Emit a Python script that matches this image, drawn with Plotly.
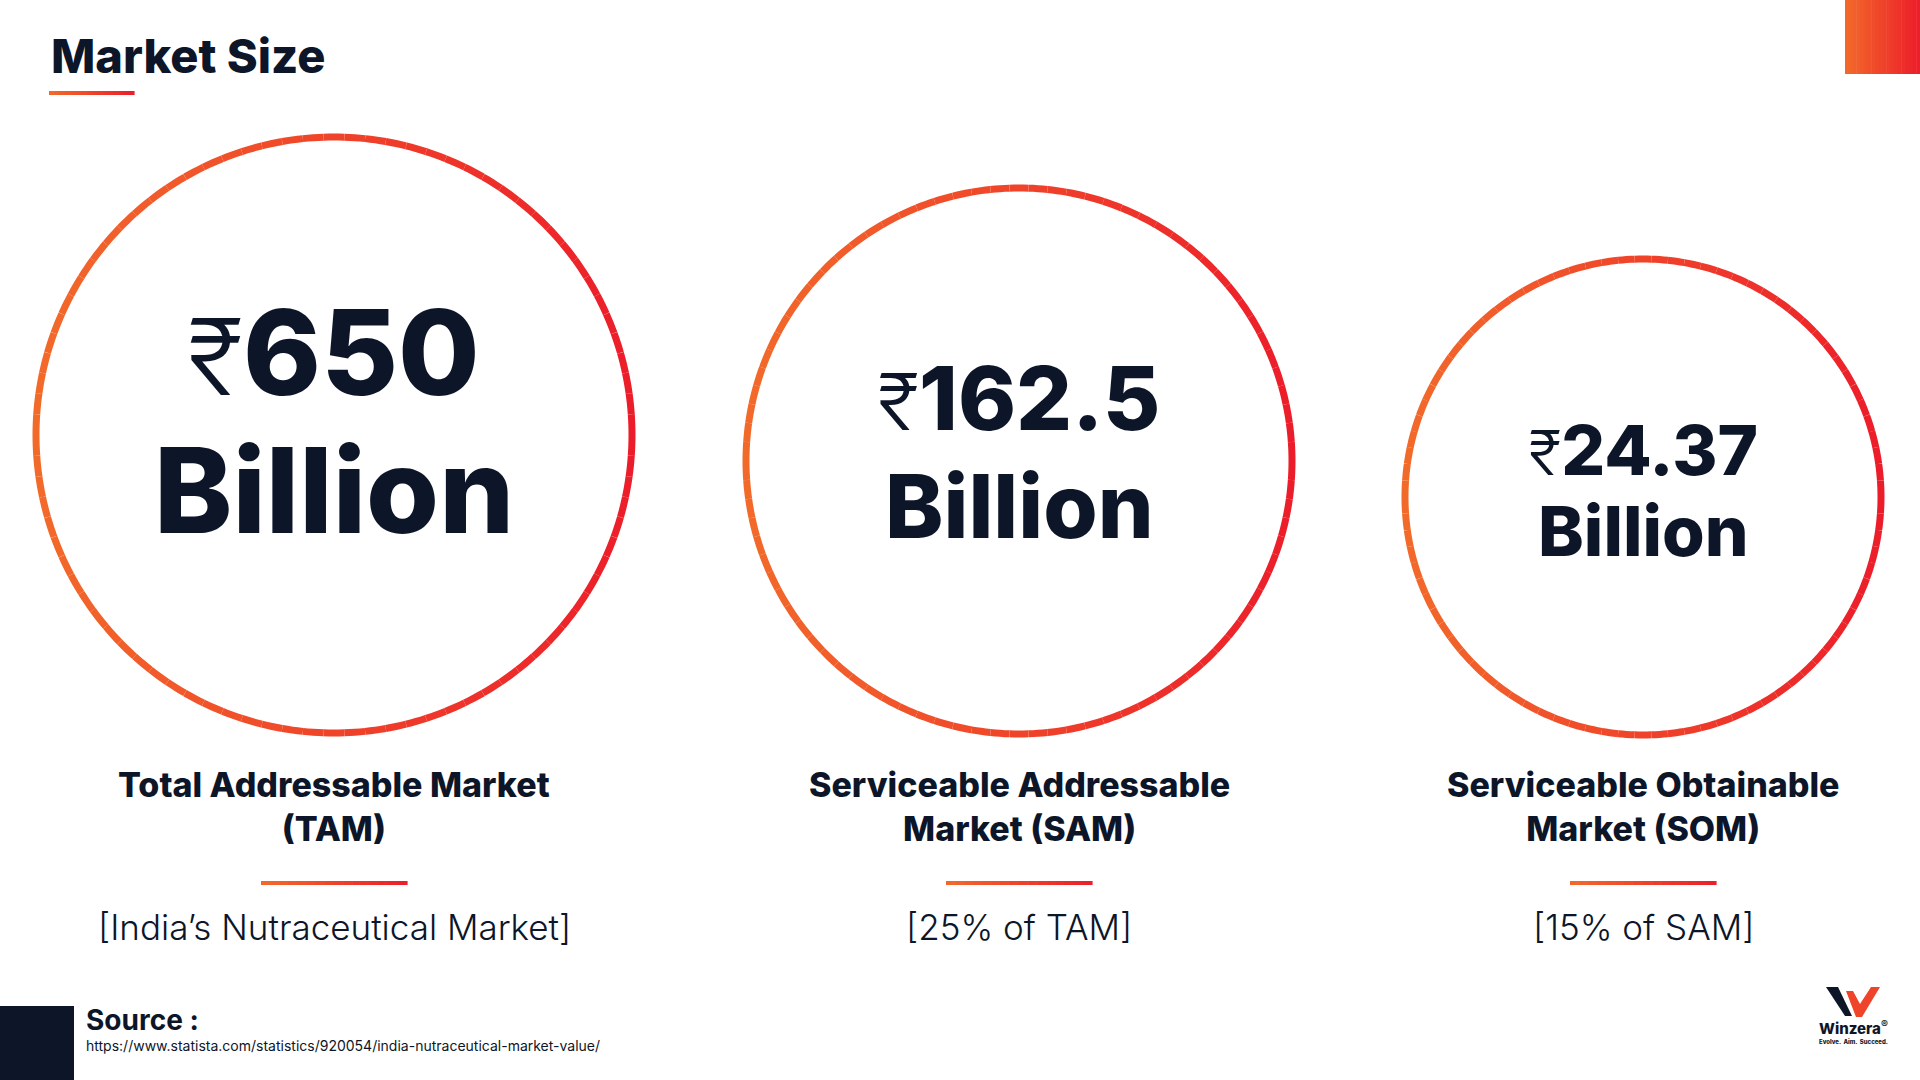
import numpy as np
import plotly.graph_objects as go

# --- chart content -------------------------------------------------------
values = ["₹650", "₹162.5", "₹24.37"]
units = ["Billion", "Billion", "Billion"]
labels = ["Total Addressable Market<br>(TAM)",
          "Serviceable Addressable<br>Market (SAM)",
          "Serviceable Obtainable<br>Market (SOM)"]
notes = ["[India’s Nutraceutical Market]", "[25% of TAM]", "[15% of SAM]"]
title = "Market Size"
source_url = "https://www.statista.com/statistics/920054/india-nutraceutical-market-value/"

# --- layout constants (pixels on a 1920x1080 canvas) ---------------------
W, H = 1920, 1080
centers_x = [334, 1019, 1643]
centers_y = [435, 461, 497]
radii = [298, 273, 238]
value_sizes = [118, 88, 69]
value_y = [352, 398, 450]
unit_y = [490, 506, 531]

NAVY = "#0D1628"
ORANGE = (242, 106, 42)
RED = (236, 29, 42)
FONT = "Inter"


def blend(t):
    t = min(max(t, 0.0), 1.0)
    r, g, b = (int(round(a + (c - a) * t)) for a, c in zip(ORANGE, RED))
    return f"rgb({r},{g},{b})"


shapes = []


def gradient_ring(cx, cy, r, width=7, n=90):
    angles = np.linspace(0, 2 * np.pi, n + 1)
    for a0, a1 in zip(angles[:-1], angles[1:]):
        pts = np.linspace(a0, a1, 5)
        xs = cx + r * np.cos(pts)
        ys = cy + r * np.sin(pts)
        path = "M " + " L ".join(f"{x:.2f},{y:.2f}" for x, y in zip(xs, ys))
        t = (np.cos((a0 + a1) / 2) + 1) / 2
        shapes.append(dict(type="path", path=path, xref="x", yref="y",
                           line=dict(color=blend(t), width=width)))


def gradient_bar(x0, x1, y, width=4, n=16):
    xs = np.linspace(x0, x1, n + 1)
    for i in range(n):
        shapes.append(dict(type="line", x0=xs[i], x1=xs[i + 1] + 0.6, y0=y, y1=y,
                           xref="x", yref="y",
                           line=dict(color=blend((i + 0.5) / n), width=width)))


def gradient_box(x0, x1, y0, y1, n=20):
    xs = np.linspace(x0, x1, n + 1)
    for i in range(n):
        shapes.append(dict(type="rect", x0=xs[i], x1=xs[i + 1] + 0.5, y0=y0, y1=y1,
                           xref="x", yref="y", line=dict(width=0),
                           fillcolor=blend((i + 0.5) / n)))


fig = go.Figure()
annotations = []


def text(x, y, s, size, weight=700, color=NAVY, xanchor="center", yanchor="middle"):
    annotations.append(dict(x=x, y=y, xref="x", yref="y", text=s, showarrow=False,
                            xanchor=xanchor, yanchor=yanchor,
                            font=dict(family=FONT, size=size, color=color, weight=weight)))


# header
text(49, 55, title, 47, weight=800, xanchor="left")
gradient_bar(49, 134, 93, width=4)
gradient_box(1845, W, 0, 74)

# circles and their captions
for i in range(len(values)):
    cx = centers_x[i]
    gradient_ring(cx, centers_y[i], radii[i])
    sym, num = values[i][0], values[i][1:]
    val = (f"<span style='font-weight:300;font-size:{int(value_sizes[i] * 0.9)}px'>{sym}</span>"
           f"{num}")
    text(cx, value_y[i], val, value_sizes[i], weight=800)
    text(cx, unit_y[i], units[i], value_sizes[i], weight=800)
    text(cx, 806, labels[i], 34, weight=800)
    gradient_bar(cx - 73, cx + 73, 883, width=4)
    text(cx, 927, notes[i], 35, weight=300)

# footer
shapes.append(dict(type="rect", x0=0, x1=74, y0=1006, y1=H, xref="x", yref="y",
                   line=dict(width=0), fillcolor=NAVY))
text(84, 1020, "Source :", 28, weight=700, xanchor="left")
text(84, 1045, source_url, 14, weight=400, xanchor="left")

# logo
shapes.append(dict(type="path", xref="x", yref="y", line=dict(width=0), fillcolor=NAVY,
                   path="M 1826,987 L 1838,987 L 1852,1016 L 1845,1016 Z"))
shapes.append(dict(type="path", xref="x", yref="y", line=dict(width=0), fillcolor=blend(0.5),
                   path="M 1846,991 L 1853,991 L 1860,1004 L 1871,987 L 1880,987 "
                        "L 1862,1017 L 1856,1017 Z"))
text(1853, 1028, "Winzera<sup>®</sup>", 15, weight=800)
text(1853, 1041, "Evolve.  Aim.  Succeed.", 6, weight=800)

fig.update_layout(
    width=W, height=H,
    margin=dict(l=0, r=0, t=0, b=0),
    paper_bgcolor="white", plot_bgcolor="white",
    xaxis=dict(range=[0, W], visible=False, fixedrange=True),
    yaxis=dict(range=[H, 0], visible=False, fixedrange=True),
    showlegend=False,
    shapes=shapes,
    annotations=annotations,
)

fig.write_html("out.html", config={"displayModeBar": False},
               post_script="document.body.style.margin='0';document.body.style.overflow='hidden';")
